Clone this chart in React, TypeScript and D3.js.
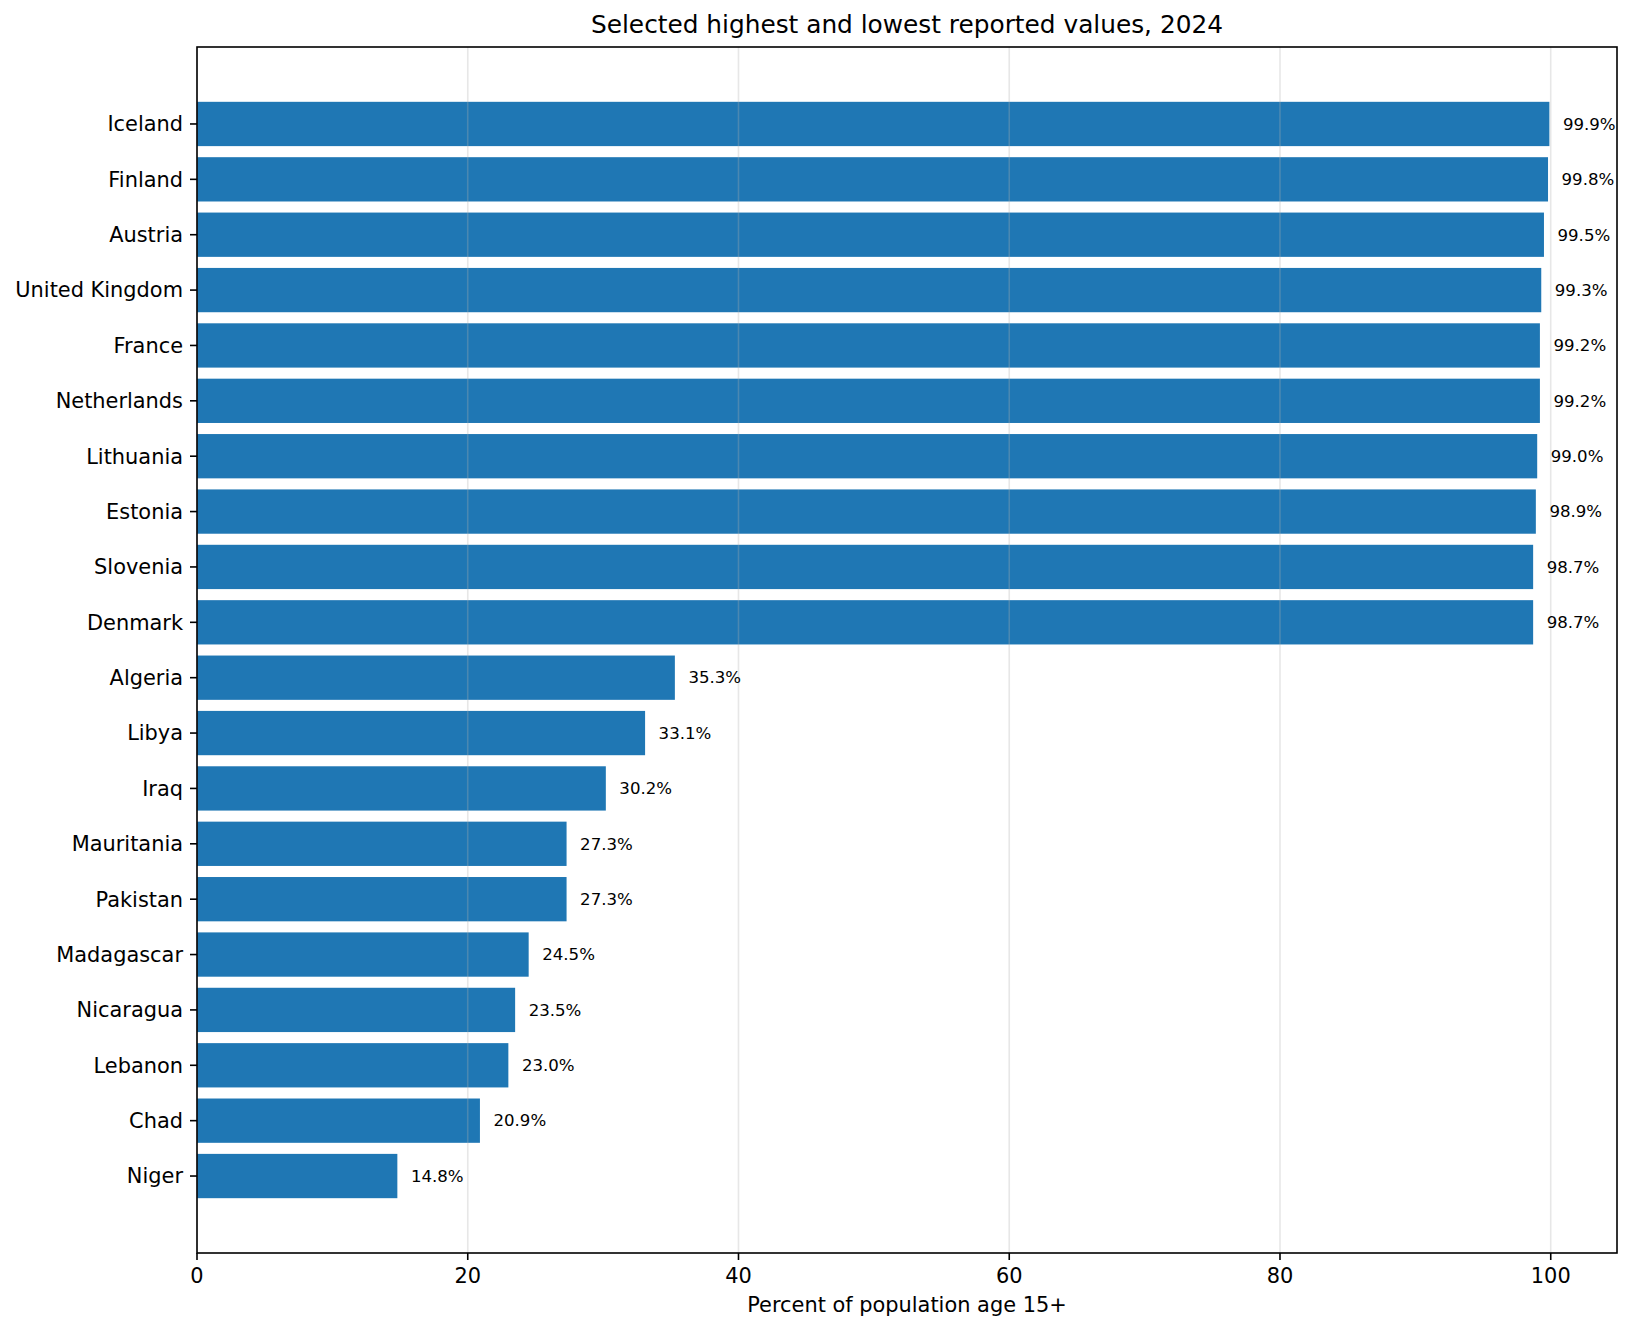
import React from 'react'
import * as d3 from 'd3'

const countries = [
  'Iceland', 'Finland', 'Austria', 'United Kingdom', 'France', 'Netherlands',
  'Lithuania', 'Estonia', 'Slovenia', 'Denmark', 'Algeria', 'Libya', 'Iraq',
  'Mauritania', 'Pakistan', 'Madagascar', 'Nicaragua', 'Lebanon', 'Chad', 'Niger'
]
const values = [
  99.9, 99.8, 99.5, 99.3, 99.2, 99.2, 99.0, 98.9, 98.7, 98.7,
  35.3, 33.1, 30.2, 27.3, 27.3, 24.5, 23.5, 23.0, 20.9, 14.8
]
const xTicks = [0, 20, 40, 60, 80, 100]

const title = 'Selected highest and lowest reported values, 2024'
const xLabel = 'Percent of population age 15+'

const W = 1632
const H = 1331
const margin = { top: 47, right: 15, bottom: 78, left: 197 }
const FONT = '"DejaVu Sans", sans-serif'

const App: React.FC = () => {
  const innerW = W - margin.left - margin.right
  const innerH = H - margin.top - margin.bottom
  const n = countries.length
  const barH = 0.8

  // matplotlib-like 5% margins
  const xMax = (d3.max(values) ?? 100) * 1.05
  const x = d3.scaleLinear().domain([0, xMax]).range([0, innerW])
  const lo = -barH / 2
  const hi = n - 1 + barH / 2
  const pad = (hi - lo) * 0.05
  const y = d3.scaleLinear().domain([lo - pad, hi + pad]).range([0, innerH])
  const bh = y(barH) - y(0)

  return (
    <svg width={W} height={H} style={{ position: 'absolute', left: 0, top: 0, background: '#fff' }}
      fontFamily={FONT}>
      <rect width={W} height={H} fill="#fff" />
      <text x={margin.left + innerW / 2} y={33} textAnchor="middle" fontSize={24.8} fill="#000">
        {title}
      </text>
      <g transform={`translate(${margin.left},${margin.top})`}>
        {/* Bars */}
        {values.map((v, i) => (
          <rect key={countries[i]} x={x(0)} y={y(i) - bh / 2} width={x(v) - x(0)} height={bh} fill="#1f77b4" />
        ))}
        {/* Grid over bars */}
        {xTicks.map(t => (
          <line key={'g' + t} x1={x(t)} x2={x(t)} y1={0} y2={innerH} stroke="#b0b0b0" strokeOpacity={0.3} strokeWidth={1.6} />
        ))}
        {/* Value labels */}
        {values.map((v, i) => (
          <text key={'l' + i} x={x(v + 1)} y={y(i)} dy="0.35em" fontSize={16.6} fill="#000">
            {`${v.toFixed(1)}%`}
          </text>
        ))}
        {/* Y ticks */}
        {countries.map((c, i) => (
          <g key={'y' + c} transform={`translate(0,${y(i)})`}>
            <line x1={-7} x2={0} stroke="#000" strokeWidth={1.6} />
            <text x={-14} dy="0.35em" textAnchor="end" fontSize={20.9} fill="#000">{c}</text>
          </g>
        ))}
        {/* X ticks */}
        {xTicks.map(t => (
          <g key={'x' + t} transform={`translate(${x(t)},${innerH})`}>
            <line y1={0} y2={7} stroke="#000" strokeWidth={1.6} />
            <text y={30} textAnchor="middle" fontSize={20.9} fill="#000">{t}</text>
          </g>
        ))}
        <rect x={0} y={0} width={innerW} height={innerH} fill="none" stroke="#000" strokeWidth={1.6} />
        <text x={innerW / 2} y={innerH + 59} textAnchor="middle" fontSize={20.9} fill="#000">{xLabel}</text>
      </g>
    </svg>
  )
}

export default App
